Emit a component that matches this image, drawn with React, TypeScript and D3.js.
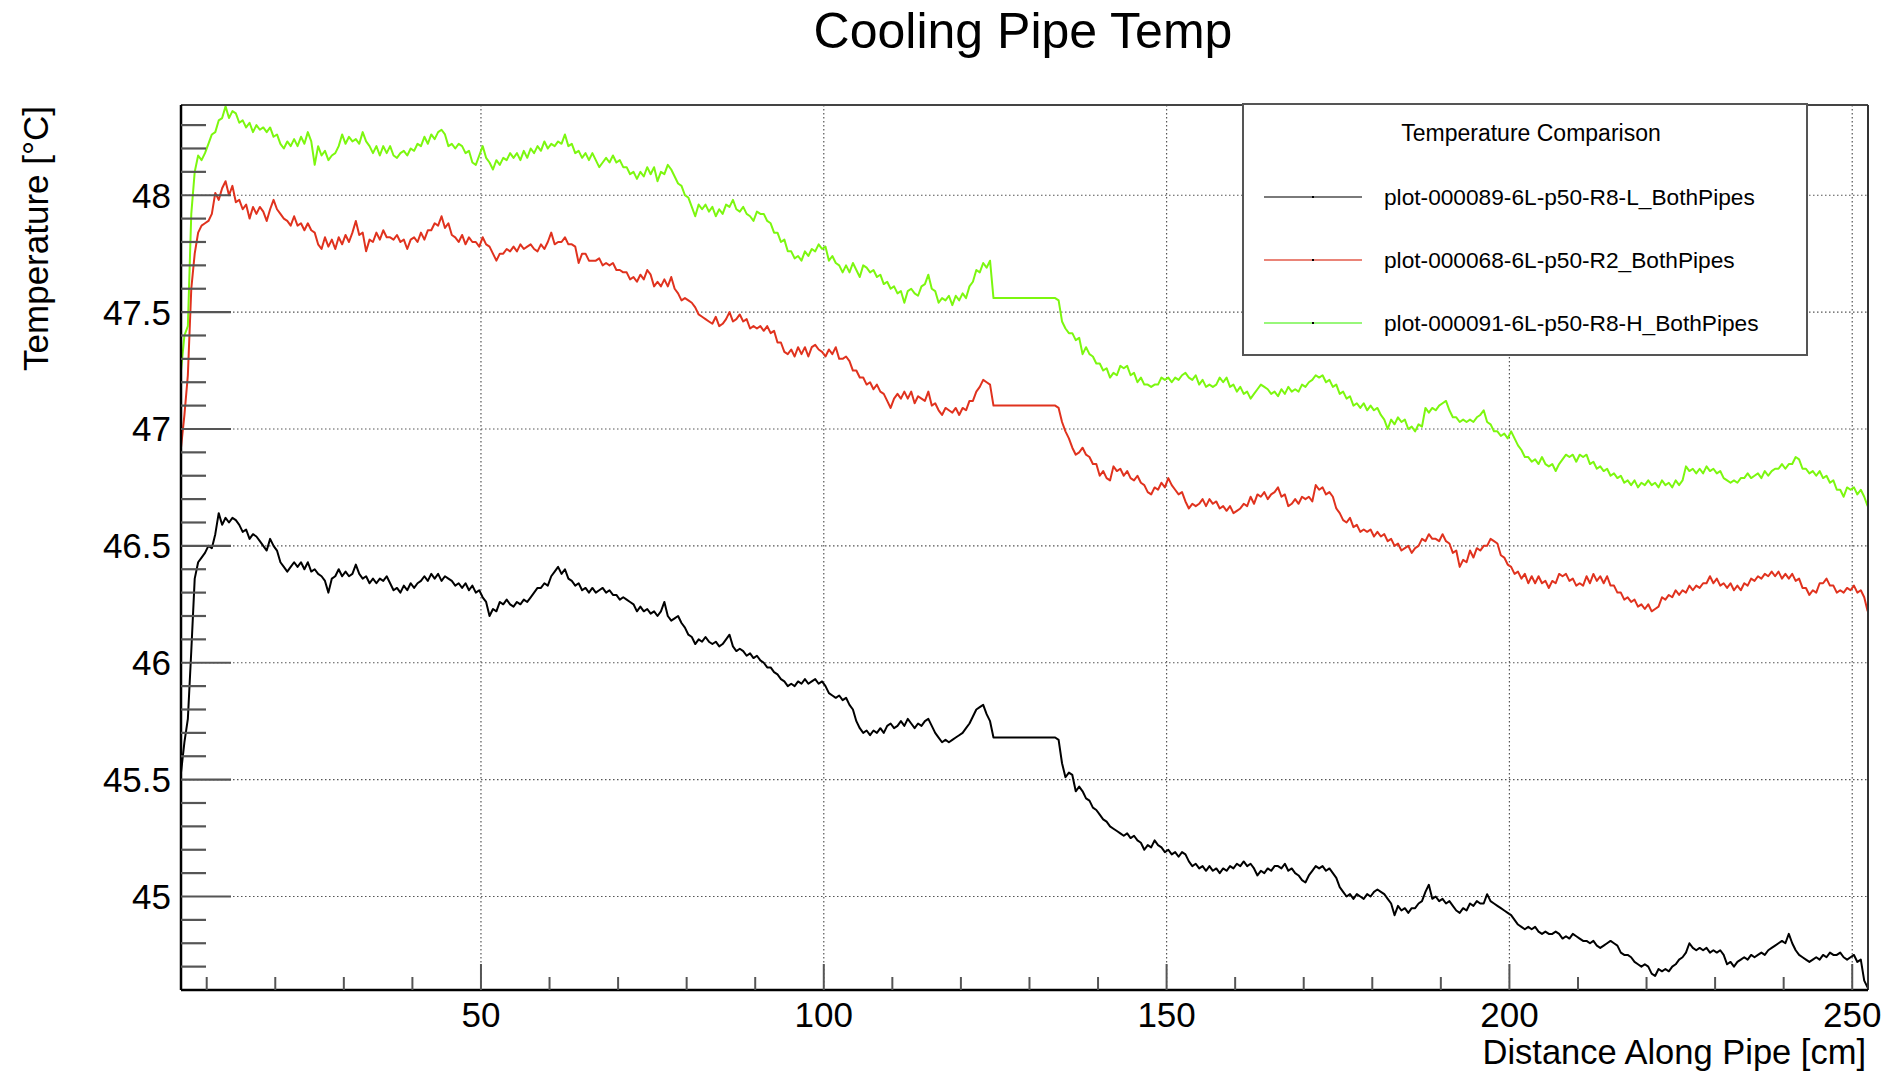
import React from 'react';
import * as d3 from 'd3';

const WIDTH = 1893;
const HEIGHT = 1071;

// Sampling of the readings along the pipe
const START_CM = 6.25;
const STEP_CM = 0.5;

const seriesNames = [
  'plot-000089-6L-p50-R8-L_BothPipes',
  'plot-000068-6L-p50-R2_BothPipes',
  'plot-000091-6L-p50-R8-H_BothPipes',
];
const seriesColors = ['#000000', '#e0321e', '#7cf70f'];
const legendColors = ['#7a7a7a', '#ea8478', '#98f77a'];

const xTickValues = [50, 100, 150, 200, 250];
const yTickValues = [45, 45.5, 46, 46.5, 47, 47.5, 48];
const yTickLabels = ['45', '45.5', '46', '46.5', '47', '47.5', '48'];

// plot-000089-6L-p50-R8-L_BothPipes
const tempL = [
  45.53, 45.66, 45.76, 46.05, 46.36, 46.43, 46.45, 46.47, 46.50, 46.49,
  46.55, 46.64, 46.59, 46.62, 46.60, 46.62, 46.61, 46.59, 46.56, 46.57,
  46.53, 46.55, 46.54, 46.52, 46.50, 46.48, 46.53, 46.50, 46.48, 46.43,
  46.41, 46.39, 46.41, 46.43, 46.41, 46.43, 46.40, 46.43, 46.39, 46.40,
  46.38, 46.37, 46.35, 46.30, 46.36, 46.37, 46.40, 46.37, 46.39, 46.37,
  46.38, 46.42, 46.38, 46.36, 46.37, 46.34, 46.36, 46.34, 46.36, 46.35,
  46.37, 46.34, 46.31, 46.32, 46.30, 46.33, 46.31, 46.34, 46.32, 46.34,
  46.35, 46.37, 46.35, 46.38, 46.36, 46.38, 46.35, 46.37, 46.36, 46.35,
  46.33, 46.34, 46.32, 46.34, 46.31, 46.33, 46.30, 46.31, 46.28, 46.26,
  46.20, 46.23, 46.22, 46.26, 46.25, 46.27, 46.25, 46.24, 46.26, 46.25,
  46.27, 46.26, 46.28, 46.30, 46.32, 46.32, 46.34, 46.33, 46.37, 46.39,
  46.41, 46.38, 46.40, 46.36, 46.35, 46.33, 46.34, 46.31, 46.32, 46.30,
  46.32, 46.30, 46.31, 46.32, 46.30, 46.31, 46.29, 46.29, 46.27, 46.28,
  46.27, 46.26, 46.25, 46.22, 46.24, 46.22, 46.23, 46.21, 46.22, 46.20,
  46.22, 46.26, 46.20, 46.18, 46.19, 46.20, 46.17, 46.15, 46.12, 46.11,
  46.08, 46.10, 46.09, 46.11, 46.09, 46.08, 46.09, 46.07, 46.08, 46.10,
  46.12, 46.07, 46.05, 46.06, 46.05, 46.03, 46.04, 46.02, 46.03, 46.01,
  46.00, 45.98, 45.98, 45.96, 45.95, 45.93, 45.92, 45.90, 45.91, 45.90,
  45.92, 45.91, 45.93, 45.91, 45.92, 45.93, 45.91, 45.92, 45.90, 45.87,
  45.86, 45.85, 45.86, 45.84, 45.85, 45.82, 45.80, 45.75, 45.72, 45.70,
  45.71, 45.69, 45.71, 45.70, 45.72, 45.70, 45.73, 45.74, 45.72, 45.73,
  45.75, 45.73, 45.76, 45.74, 45.72, 45.74, 45.73, 45.75, 45.76, 45.73,
  45.70, 45.68, 45.66, 45.67, 45.66, 45.67, 45.68, 45.69, 45.70, 45.72,
  45.74, 45.77, 45.80, 45.81, 45.82, 45.78, 45.75, 45.68, 45.68, 45.68,
  45.68, 45.68, 45.68, 45.68, 45.68, 45.68, 45.68, 45.68, 45.68, 45.68,
  45.68, 45.68, 45.68, 45.68, 45.68, 45.68, 45.67, 45.57, 45.51, 45.53,
  45.52, 45.45, 45.47, 45.45, 45.42, 45.41, 45.38, 45.37, 45.35, 45.33,
  45.32, 45.30, 45.29, 45.28, 45.27, 45.26, 45.27, 45.25, 45.26, 45.24,
  45.23, 45.20, 45.22, 45.21, 45.24, 45.22, 45.21, 45.19, 45.20, 45.18,
  45.19, 45.17, 45.19, 45.18, 45.15, 45.13, 45.14, 45.12, 45.13, 45.11,
  45.13, 45.11, 45.12, 45.10, 45.12, 45.11, 45.13, 45.12, 45.14, 45.13,
  45.15, 45.13, 45.14, 45.12, 45.09, 45.11, 45.10, 45.12, 45.11, 45.13,
  45.13, 45.12, 45.14, 45.11, 45.12, 45.10, 45.09, 45.07, 45.06, 45.09,
  45.11, 45.13, 45.12, 45.13, 45.11, 45.12, 45.10, 45.08, 45.04, 45.02,
  45.00, 45.01, 44.99, 45.01, 45.00, 44.99, 45.01, 45.00, 45.02, 45.03,
  45.02, 45.01, 44.99, 44.97, 44.92, 44.96, 44.94, 44.95, 44.93, 44.95,
  44.95, 44.97, 44.98, 45.02, 45.05, 44.99, 45.00, 44.98, 44.99, 44.97,
  44.98, 44.96, 44.94, 44.93, 44.95, 44.94, 44.97, 44.96, 44.98, 44.97,
  44.97, 45.01, 44.98, 44.97, 44.96, 44.95, 44.94, 44.93, 44.92, 44.90,
  44.88, 44.87, 44.86, 44.87, 44.86, 44.87, 44.85, 44.84, 44.85, 44.84,
  44.84, 44.85, 44.84, 44.82, 44.83, 44.82, 44.84, 44.83, 44.82, 44.81,
  44.81, 44.80, 44.81, 44.79, 44.78, 44.79, 44.80, 44.81, 44.80, 44.79,
  44.76, 44.75, 44.75, 44.74, 44.72, 44.71, 44.70, 44.71, 44.70, 44.67,
  44.66, 44.69, 44.68, 44.69, 44.68, 44.70, 44.71, 44.73, 44.74, 44.76,
  44.80, 44.78, 44.77, 44.78, 44.77, 44.78, 44.76, 44.77, 44.76, 44.77,
  44.75, 44.71, 44.72, 44.70, 44.72, 44.73, 44.74, 44.73, 44.75, 44.74,
  44.75, 44.76, 44.75, 44.77, 44.78, 44.79, 44.80, 44.81, 44.80, 44.84,
  44.80, 44.77, 44.75, 44.74, 44.73, 44.72, 44.73, 44.74, 44.73, 44.75,
  44.74, 44.76, 44.75, 44.75, 44.76, 44.74, 44.73, 44.74, 44.75, 44.72,
  44.73, 44.64, 44.61,
];

// plot-000068-6L-p50-R2_BothPipes
const tempR2 = [
  46.92, 47.06, 47.23, 47.60, 47.75, 47.84, 47.87, 47.88, 47.89, 47.92,
  48.01, 47.98, 48.03, 48.06, 48.00, 48.04, 47.97, 47.98, 47.94, 47.96,
  47.90, 47.95, 47.92, 47.95, 47.93, 47.89, 47.94, 47.98, 47.94, 47.92,
  47.90, 47.89, 47.87, 47.91, 47.87, 47.88, 47.85, 47.88, 47.85, 47.84,
  47.79, 47.77, 47.82, 47.78, 47.81, 47.77, 47.82, 47.79, 47.83, 47.80,
  47.84, 47.89, 47.83, 47.84, 47.76, 47.81, 47.80, 47.84, 47.81, 47.85,
  47.82, 47.82, 47.81, 47.83, 47.80, 47.81, 47.77, 47.81, 47.82, 47.80,
  47.84, 47.81, 47.85, 47.85, 47.88, 47.87, 47.91, 47.86, 47.88, 47.83,
  47.82, 47.80, 47.83, 47.79, 47.82, 47.80, 47.80, 47.78, 47.82, 47.79,
  47.78, 47.75, 47.72, 47.75, 47.75, 47.77, 47.76, 47.78, 47.76, 47.79,
  47.77, 47.78, 47.79, 47.77, 47.76, 47.79, 47.77, 47.80, 47.84, 47.79,
  47.80, 47.80, 47.82, 47.79, 47.79, 47.78, 47.71, 47.75, 47.75, 47.72,
  47.72, 47.72, 47.73, 47.70, 47.71, 47.70, 47.71, 47.68, 47.68, 47.67,
  47.67, 47.64, 47.65, 47.63, 47.66, 47.64, 47.68, 47.66, 47.61, 47.63,
  47.61, 47.64, 47.61, 47.65, 47.60, 47.58, 47.55, 47.56, 47.55, 47.54,
  47.52, 47.49, 47.48, 47.47, 47.46, 47.45, 47.48, 47.44, 47.45, 47.47,
  47.50, 47.46, 47.47, 47.49, 47.46, 47.47, 47.43, 47.44, 47.43, 47.44,
  47.42, 47.44, 47.41, 47.42, 47.37, 47.37, 47.33, 47.32, 47.34, 47.31,
  47.35, 47.32, 47.35, 47.31, 47.35, 47.36, 47.34, 47.33, 47.31, 47.34,
  47.32, 47.35, 47.30, 47.30, 47.31, 47.29, 47.25, 47.25, 47.22, 47.22,
  47.19, 47.20, 47.17, 47.19, 47.16, 47.15, 47.12, 47.09, 47.13, 47.15,
  47.13, 47.16, 47.13, 47.16, 47.11, 47.14, 47.13, 47.12, 47.16, 47.10,
  47.11, 47.08, 47.06, 47.09, 47.08, 47.07, 47.09, 47.06, 47.09, 47.08,
  47.12, 47.12, 47.16, 47.18, 47.21, 47.20, 47.19, 47.10, 47.10, 47.10,
  47.10, 47.10, 47.10, 47.10, 47.10, 47.10, 47.10, 47.10, 47.10, 47.10,
  47.10, 47.10, 47.10, 47.10, 47.10, 47.10, 47.09, 47.03, 46.99, 46.96,
  46.92, 46.89, 46.90, 46.92, 46.89, 46.88, 46.85, 46.85, 46.80, 46.82,
  46.79, 46.78, 46.84, 46.82, 46.83, 46.80, 46.82, 46.79, 46.78, 46.80,
  46.77, 46.76, 46.73, 46.72, 46.75, 46.74, 46.77, 46.75, 46.79, 46.76,
  46.74, 46.72, 46.73, 46.69, 46.66, 46.68, 46.67, 46.68, 46.70, 46.67,
  46.70, 46.68, 46.69, 46.66, 46.67, 46.65, 46.67, 46.64, 46.65, 46.66,
  46.68, 46.67, 46.71, 46.68, 46.72, 46.71, 46.73, 46.70, 46.72, 46.73,
  46.75, 46.71, 46.72, 46.67, 46.68, 46.70, 46.68, 46.71, 46.70, 46.71,
  46.69, 46.76, 46.74, 46.75, 46.72, 46.73, 46.71, 46.66, 46.64, 46.61,
  46.60, 46.62, 46.58, 46.59, 46.56, 46.57, 46.56, 46.57, 46.54, 46.56,
  46.54, 46.55, 46.52, 46.53, 46.50, 46.51, 46.48, 46.49, 46.50, 46.47,
  46.49, 46.50, 46.53, 46.52, 46.55, 46.53, 46.53, 46.52, 46.55, 46.52,
  46.51, 46.47, 46.48, 46.41, 46.44, 46.43, 46.48, 46.45, 46.49, 46.48,
  46.50, 46.50, 46.53, 46.52, 46.51, 46.46, 46.45, 46.42, 46.41, 46.38,
  46.39, 46.36, 46.38, 46.34, 46.37, 46.34, 46.37, 46.34, 46.35, 46.32,
  46.35, 46.34, 46.38, 46.37, 46.38, 46.35, 46.36, 46.33, 46.34, 46.33,
  46.37, 46.34, 46.38, 46.35, 46.37, 46.34, 46.37, 46.33, 46.33, 46.30,
  46.30, 46.27, 46.28, 46.26, 46.27, 46.24, 46.25, 46.23, 46.25, 46.22,
  46.23, 46.24, 46.28, 46.27, 46.29, 46.28, 46.31, 46.29, 46.31, 46.30,
  46.33, 46.31, 46.33, 46.32, 46.34, 46.34, 46.37, 46.34, 46.36, 46.33,
  46.34, 46.32, 46.34, 46.31, 46.33, 46.31, 46.34, 46.33, 46.36, 46.35,
  46.37, 46.36, 46.38, 46.37, 46.39, 46.37, 46.39, 46.36, 46.38, 46.36,
  46.38, 46.35, 46.36, 46.32, 46.32, 46.29, 46.31, 46.30, 46.34, 46.34,
  46.36, 46.33, 46.33, 46.30, 46.31, 46.30, 46.32, 46.31, 46.33, 46.30,
  46.31, 46.28, 46.22,
];

// plot-000091-6L-p50-R8-H_BothPipes
const tempH = [
  47.25, 47.40, 47.44, 47.92, 48.10, 48.17, 48.15, 48.18, 48.22, 48.26,
  48.27, 48.32, 48.33, 48.38, 48.33, 48.36, 48.35, 48.31, 48.32, 48.29,
  48.31, 48.27, 48.30, 48.28, 48.29, 48.27, 48.29, 48.25, 48.26, 48.22,
  48.20, 48.23, 48.21, 48.24, 48.21, 48.25, 48.22, 48.27, 48.23, 48.13,
  48.21, 48.17, 48.19, 48.15, 48.17, 48.18, 48.21, 48.26, 48.22, 48.25,
  48.23, 48.24, 48.22, 48.27, 48.23, 48.21, 48.18, 48.21, 48.17, 48.21,
  48.18, 48.21, 48.17, 48.16, 48.18, 48.19, 48.17, 48.20, 48.19, 48.22,
  48.21, 48.25, 48.22, 48.26, 48.24, 48.27, 48.28, 48.26, 48.21, 48.22,
  48.20, 48.22, 48.21, 48.18, 48.19, 48.14, 48.13, 48.17, 48.21, 48.16,
  48.14, 48.11, 48.15, 48.13, 48.16, 48.15, 48.18, 48.16, 48.18, 48.15,
  48.19, 48.16, 48.20, 48.18, 48.21, 48.19, 48.23, 48.20, 48.22, 48.21,
  48.23, 48.22, 48.26, 48.21, 48.22, 48.18, 48.19, 48.16, 48.18, 48.15,
  48.18, 48.15, 48.12, 48.14, 48.16, 48.14, 48.17, 48.14, 48.15, 48.12,
  48.12, 48.09, 48.10, 48.07, 48.10, 48.08, 48.12, 48.09, 48.12, 48.06,
  48.10, 48.09, 48.13, 48.11, 48.08, 48.05, 48.04, 48.00, 47.99, 47.95,
  47.91, 47.96, 47.94, 47.96, 47.93, 47.95, 47.91, 47.94, 47.92, 47.96,
  47.95, 47.98, 47.94, 47.93, 47.95, 47.92, 47.91, 47.89, 47.93, 47.92,
  47.92, 47.89, 47.88, 47.84, 47.84, 47.80, 47.81, 47.76, 47.76, 47.73,
  47.74, 47.72, 47.76, 47.74, 47.77, 47.76, 47.79, 47.77, 47.78, 47.72,
  47.74, 47.71, 47.70, 47.67, 47.70, 47.67, 47.71, 47.68, 47.65, 47.70,
  47.69, 47.67, 47.68, 47.65, 47.66, 47.62, 47.63, 47.60, 47.61, 47.58,
  47.59, 47.54, 47.59, 47.60, 47.58, 47.57, 47.61, 47.62, 47.66, 47.60,
  47.59, 47.54, 47.56, 47.55, 47.57, 47.53, 47.57, 47.55, 47.58, 47.56,
  47.61, 47.63, 47.68, 47.67, 47.71, 47.69, 47.72, 47.56, 47.56, 47.56,
  47.56, 47.56, 47.56, 47.56, 47.56, 47.56, 47.56, 47.56, 47.56, 47.56,
  47.56, 47.56, 47.56, 47.56, 47.56, 47.56, 47.55, 47.46, 47.43, 47.41,
  47.41, 47.38, 47.39, 47.32, 47.35, 47.32, 47.31, 47.28, 47.28, 47.25,
  47.26, 47.22, 47.24, 47.23, 47.27, 47.26, 47.27, 47.23, 47.24, 47.20,
  47.22, 47.19, 47.19, 47.18, 47.19, 47.19, 47.22, 47.21, 47.22, 47.20,
  47.22, 47.21, 47.23, 47.24, 47.22, 47.21, 47.23, 47.19, 47.21, 47.18,
  47.19, 47.18, 47.19, 47.22, 47.20, 47.22, 47.18, 47.19, 47.16, 47.18,
  47.15, 47.16, 47.13, 47.15, 47.17, 47.19, 47.18, 47.17, 47.15, 47.16,
  47.14, 47.17, 47.15, 47.18, 47.16, 47.17, 47.16, 47.19, 47.18, 47.20,
  47.21, 47.23, 47.22, 47.23, 47.20, 47.21, 47.18, 47.19, 47.15, 47.16,
  47.13, 47.14, 47.10, 47.11, 47.09, 47.11, 47.08, 47.10, 47.08, 47.09,
  47.06, 47.04, 47.00, 47.04, 47.02, 47.05, 47.03, 47.04, 47.00, 47.01,
  46.99, 47.02, 47.01, 47.09, 47.07, 47.09, 47.08, 47.10, 47.11, 47.12,
  47.08, 47.05, 47.05, 47.03, 47.04, 47.03, 47.04, 47.03, 47.05, 47.06,
  47.08, 47.03, 47.02, 46.99, 46.99, 46.97, 46.98, 46.96, 46.99, 46.96,
  46.93, 46.91, 46.88, 46.88, 46.86, 46.87, 46.85, 46.88, 46.85, 46.84,
  46.85, 46.82, 46.85, 46.87, 46.89, 46.88, 46.89, 46.86, 46.89, 46.88,
  46.89, 46.85, 46.86, 46.83, 46.84, 46.82, 46.83, 46.80, 46.81, 46.79,
  46.80, 46.77, 46.78, 46.76, 46.78, 46.75, 46.77, 46.76, 46.78, 46.76,
  46.77, 46.75, 46.78, 46.76, 46.77, 46.75, 46.78, 46.76, 46.78, 46.84,
  46.82, 46.83, 46.81, 46.83, 46.81, 46.84, 46.82, 46.83, 46.81, 46.82,
  46.79, 46.78, 46.77, 46.78, 46.77, 46.79, 46.79, 46.81, 46.79, 46.80,
  46.81, 46.79, 46.82, 46.80, 46.82, 46.83, 46.83, 46.85, 46.83, 46.85,
  46.85, 46.88, 46.87, 46.83, 46.83, 46.81, 46.82, 46.80, 46.82, 46.79,
  46.80, 46.77, 46.78, 46.74, 46.74, 46.71, 46.75, 46.74, 46.75, 46.72,
  46.74, 46.71, 46.67,
];

const allSeries = [tempL, tempR2, tempH];

const FONT = '"Liberation Sans", Arial, Helvetica, sans-serif';

export default function App() {
  const left = 181;
  const right = 1868;
  const top = 105;
  const bottom = 990;

  const x = d3.scaleLinear().domain([6.25, 252.3]).range([left, right]);
  const y = d3.scaleLinear().domain([44.6, 48.386]).range([bottom, top]);

  const line = d3
    .line<number>()
    .x((_, i) => x(START_CM + i * STEP_CM))
    .y((v) => y(v));

  const xMinor = d3.range(10, 251, 10).filter((v) => v % 50 !== 0);
  const yMinor = d3
    .range(447, 484)
    .filter((v) => v % 5 !== 0)
    .map((v) => v / 10);

  const legendLeft = 1243;
  const legendTop = 104;
  const legendW = 564;
  const legendH = 251;
  const entryY = [197, 260, 323];

  return (
    <svg
      width={WIDTH}
      height={HEIGHT}
      style={{ position: 'absolute', left: 0, top: 0, display: 'block', background: '#fff' }}
      fontFamily={FONT}
    >
      <rect x={0} y={0} width={WIDTH} height={HEIGHT} fill="#fff" />

      {/* title */}
      <text x={1023} y={48} fontSize={50} textAnchor="middle" fill="#000">
        Cooling Pipe Temp
      </text>

      {/* grid */}
      <g stroke="#555" strokeWidth={1.2} strokeDasharray="1.5 2.5">
        {yTickValues.map((v) => (
          <line key={'gy' + v} x1={left} x2={right} y1={y(v)} y2={y(v)} />
        ))}
        {xTickValues.map((v) => (
          <line key={'gx' + v} x1={x(v)} x2={x(v)} y1={top} y2={bottom} />
        ))}
      </g>

      {/* data */}
      <defs>
        <clipPath id="plot-area">
          <rect x={left} y={top} width={right - left} height={bottom - top} />
        </clipPath>
      </defs>
      <g clipPath="url(#plot-area)" fill="none" strokeWidth={2} strokeLinejoin="round">
        {allSeries.map((s, i) => (
          <path key={'s' + i} d={line(s) || ''} stroke={seriesColors[i]} />
        ))}
      </g>

      {/* frame */}
      <line x1={left} x2={right} y1={top} y2={top} stroke="#444" strokeWidth={2} />
      <line x1={right} x2={right} y1={top} y2={bottom} stroke="#333" strokeWidth={2} />
      <line x1={left} x2={left} y1={top} y2={bottom} stroke="#000" strokeWidth={2.5} />
      <line x1={left} x2={right} y1={bottom} y2={bottom} stroke="#000" strokeWidth={2.5} />

      {/* y ticks */}
      <g stroke="#555" strokeWidth={2.2}>
        {yTickValues.map((v) => (
          <line key={'ty' + v} x1={left} x2={left + 50} y1={y(v)} y2={y(v)} />
        ))}
        {yMinor.map((v) => (
          <line key={'tym' + v} x1={left} x2={left + 25} y1={y(v)} y2={y(v)} />
        ))}
      </g>
      {/* x ticks */}
      <g stroke="#555" strokeWidth={2}>
        {xTickValues.map((v) => (
          <line key={'tx' + v} x1={x(v)} x2={x(v)} y1={bottom} y2={bottom - 26} />
        ))}
        {xMinor.map((v) => (
          <line key={'txm' + v} x1={x(v)} x2={x(v)} y1={bottom} y2={bottom - 13} />
        ))}
      </g>

      {/* tick labels */}
      <g fontSize={35} fill="#000">
        {yTickValues.map((v, i) => (
          <text key={'ly' + v} x={171} y={y(v) + 12.5} textAnchor="end">
            {yTickLabels[i]}
          </text>
        ))}
        {xTickValues.map((v) => (
          <text key={'lx' + v} x={x(v)} y={1027} textAnchor="middle">
            {v}
          </text>
        ))}
      </g>

      {/* axis titles */}
      <text x={1866} y={1064} fontSize={34.5} textAnchor="end" fill="#000">
        Distance Along Pipe [cm]
      </text>
      <text
        transform={`translate(48, ${top + 1}) rotate(-90)`}
        fontSize={35}
        textAnchor="end"
        fill="#000"
      >
        Temperature [°C]
      </text>

      {/* legend */}
      <rect
        x={legendLeft}
        y={legendTop}
        width={legendW}
        height={legendH}
        fill="#fff"
        stroke="#555"
        strokeWidth={2}
      />
      <text x={1531} y={141} fontSize={23} textAnchor="middle" fill="#000">
        Temperature Comparison
      </text>
      {seriesNames.map((name, i) => (
        <g key={'lg' + i}>
          <line
            x1={1264}
            x2={1362}
            y1={entryY[i]}
            y2={entryY[i]}
            stroke={legendColors[i]}
            strokeWidth={2}
          />
          <rect x={1312} y={entryY[i] - 1} width={2} height={2} fill="#000" />
          <text x={1384} y={entryY[i] + 8} fontSize={22.7} fill="#000">
            {name}
          </text>
        </g>
      ))}
    </svg>
  );
}
